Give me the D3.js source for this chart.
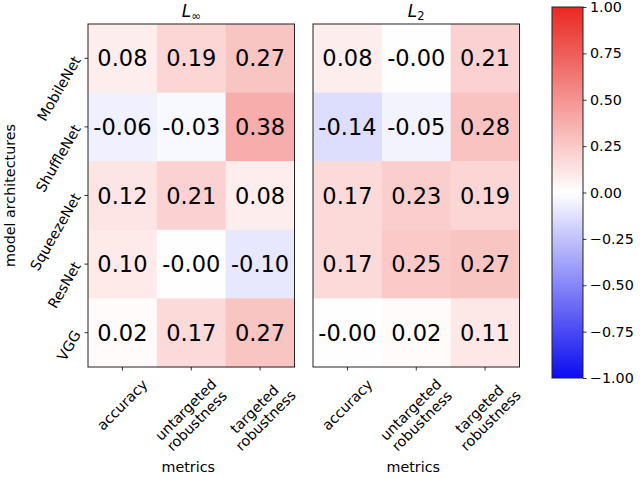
<!DOCTYPE html>
<html>
<head>
<meta charset="utf-8">
<script src="https://cdn.jsdelivr.net/npm/d3@7"></script>
<style>
  body { margin: 0; background: #fff; }
  text { font-family: "DejaVu Sans", sans-serif; fill: #000; }
</style>
</head>
<body>
<script>
// data
var models = ["MobileNet", "ShuffleNet", "SqueezeNet", "ResNet", "VGG"]
var metrics = ["accuracy", "untargeted\nrobustness", "targeted\nrobustness"]
var linfValues = [
  [0.08, 0.19, 0.27],
  [-0.06, -0.03, 0.38],
  [0.12, 0.21, 0.08],
  [0.10, -0.004, -0.10],
  [0.02, 0.17, 0.27]
]
var l2Values = [
  [0.08, -0.004, 0.21],
  [-0.14, -0.05, 0.28],
  [0.17, 0.23, 0.19],
  [0.17, 0.25, 0.27],
  [-0.004, 0.02, 0.11]
]
var cbarTicks = [1, 0.75, 0.5, 0.25, 0, -0.25, -0.5, -0.75, -1]

var width = 640, height = 479
var svg = d3.select("body").append("svg")
  .attr("width", width)
  .attr("height", height)

var color = d3.scaleLinear()
  .domain([-1, 0, 1])
  .range(["rgb(12,12,242)", "#ffffff", "rgb(234,40,34)"])

var top0 = 24, bottom0 = 367
var y = d3.scaleBand().domain(models).range([top0, bottom0])

var panels = [
  { title: "L", sub: "\u221e", values: linfValues, x0: 88 },
  { title: "L", sub: "2", values: l2Values, x0: 313 }
]
var panelW = 206.5
var tickFont = "14.3px"

panels.forEach(function (p, pi) {
  var x = d3.scaleBand().domain(metrics).range([p.x0, p.x0 + panelW])
  var g = svg.append("g")

  var cells = []
  p.values.forEach(function (row, i) {
    row.forEach(function (v, j) {
      cells.push({ model: models[i], metric: metrics[j], v: v })
    })
  })

  g.selectAll("rect.cell").data(cells).enter()
    .append("rect")
    .attr("class", "cell")
    .attr("x", function (d) { return x(d.metric) })
    .attr("y", function (d) { return y(d.model) })
    .attr("width", x.bandwidth() + 0.5)
    .attr("height", y.bandwidth() + 0.5)
    .style("fill", function (d) { return color(d.v) })

  g.selectAll("text.val").data(cells).enter()
    .append("text")
    .attr("class", "val")
    .attr("x", function (d) { return x(d.metric) + x.bandwidth() / 2 })
    .attr("y", function (d) { return y(d.model) + y.bandwidth() / 2 + 8 })
    .attr("text-anchor", "middle")
    .style("font-size", "22.5px")
    .text(function (d) { return d.v.toFixed(2) })

  // frame
  g.append("rect")
    .attr("x", p.x0).attr("y", top0)
    .attr("width", panelW).attr("height", bottom0 - top0)
    .style("fill", "none").style("stroke", "#222").style("stroke-width", 1)

  // title
  var t = g.append("text")
    .attr("x", p.x0 + panelW / 2)
    .attr("y", 17)
    .attr("text-anchor", "middle")
    .style("font-size", "17px")
  t.append("tspan").style("font-style", "italic").text(p.title)
  t.append("tspan").attr("dy", 3).style("font-size", "11.5px").text(p.sub)

  // x ticks
  metrics.forEach(function (m) {
    var cx = x(m) + x.bandwidth() / 2
    g.append("line")
      .attr("x1", cx).attr("x2", cx)
      .attr("y1", bottom0).attr("y2", bottom0 + 3.5)
      .style("stroke", "#000").style("stroke-width", 0.8)
    var lg = g.append("g")
    var lt = lg.append("text")
      .attr("transform", "rotate(-45)")
      .attr("text-anchor", "middle")
      .style("font-size", tickFont)
    m.split("\n").forEach(function (line, k) {
      lt.append("tspan").attr("x", 0).attr("dy", k === 0 ? 0 : "1.1em").text(line)
    })
    var bb = lg.node().getBBox()
    lg.attr("transform", "translate(" + (cx - (bb.x + bb.width / 2)) + "," + (bottom0 + 9 - bb.y) + ")")
  })

  g.append("text")
    .attr("x", p.x0 + panelW / 2 - 3)
    .attr("y", 472)
    .attr("text-anchor", "middle")
    .style("font-size", tickFont)
    .text("metrics")

  // y ticks only on the first panel
  if (pi === 0) {
    models.forEach(function (m) {
      var cy = y(m) + y.bandwidth() / 2
      g.append("line")
        .attr("x1", p.x0 - 3.5).attr("x2", p.x0)
        .attr("y1", cy).attr("y2", cy)
        .style("stroke", "#000").style("stroke-width", 0.8)
      g.append("text")
        .attr("transform", "translate(" + (p.x0 - 11) + "," + (cy - 1) + ") rotate(-60)")
        .attr("text-anchor", "end")
        .attr("dy", "0.35em")
        .style("font-size", tickFont)
        .text(m)
    })
    g.append("text")
      .attr("transform", "translate(15," + ((top0 + bottom0) / 2) + ") rotate(-90)")
      .attr("text-anchor", "middle")
      .style("font-size", tickFont)
      .text("model architectures")
  }
})

// colorbar
var cbX = 552, cbW = 31, cbTop = 7, cbBottom = 378
var cy = d3.scaleLinear().domain([-1, 1]).range([cbBottom, cbTop])

var grad = svg.append("defs").append("linearGradient")
  .attr("id", "cbar")
  .attr("x1", 0).attr("y1", 1).attr("x2", 0).attr("y2", 0)
d3.range(0, 1.0001, 0.05).forEach(function (s) {
  grad.append("stop")
    .attr("offset", s)
    .attr("stop-color", color(-1 + 2 * s))
})

svg.append("rect")
  .attr("x", cbX).attr("y", cbTop)
  .attr("width", cbW).attr("height", cbBottom - cbTop)
  .style("fill", "url(#cbar)")
  .style("stroke", "#222").style("stroke-width", 1)

var cbAxis = d3.axisRight(cy)
  .tickValues(cbarTicks)
  .tickSize(3.5)
  .tickPadding(3.5)
  .tickFormat(function (d) { return d3.format(".2f")(d) })

var ax = svg.append("g")
  .attr("transform", "translate(" + (cbX + cbW) + ",0)")
  .call(cbAxis)
ax.select(".domain").remove()
ax.selectAll("line").style("stroke", "#000").style("stroke-width", 0.8)
ax.selectAll("text")
  .style("font-size", tickFont)
  .style("font-family", "DejaVu Sans, sans-serif")
  .attr("fill", "#000")
</script>
</body>
</html>
